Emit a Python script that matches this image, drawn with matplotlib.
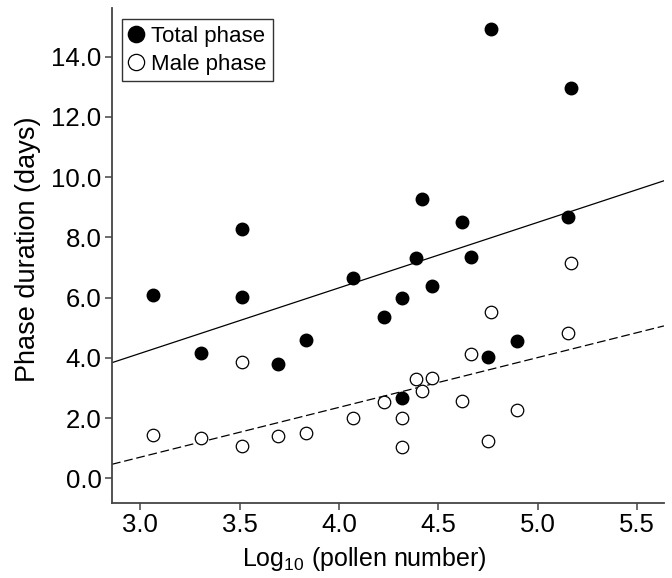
import numpy as np
import matplotlib.pyplot as plt

plt.rcParams['font.family'] = ['Liberation Sans', 'DejaVu Sans']
plt.rcParams['mathtext.default'] = 'regular'

# total phase (filled)
x_total = [3.065, 3.307, 3.511, 3.511, 3.695, 3.834, 4.072, 4.228, 4.317, 4.318,
           4.387, 4.420, 4.466, 4.618, 4.663, 4.747, 4.765, 4.896, 5.154, 5.166]
y_total = [6.09, 4.17, 8.27, 6.01, 3.80, 4.59, 6.66, 5.37, 5.98, 2.66,
           7.30, 9.27, 6.37, 8.51, 7.34, 4.04, 14.92, 4.55, 8.68, 12.96]

# male phase (open)
x_male = [3.067, 3.307, 3.511, 3.511, 3.695, 3.834, 4.072, 4.228, 4.318, 4.318,
          4.387, 4.420, 4.466, 4.618, 4.663, 4.747, 4.765, 4.896, 5.154, 5.166]
y_male = [1.44, 1.33, 3.87, 1.08, 1.39, 1.49, 2.01, 2.55, 2.01, 1.03,
          3.29, 2.90, 3.34, 2.58, 4.12, 1.25, 5.52, 2.27, 4.84, 7.14]

# fit lines (slope, intercept)
fit_total = (2.177, -2.384)
fit_male = (1.656, -4.269)

xticks = [3.0, 3.5, 4.0, 4.5, 5.0, 5.5]
yticks = [0, 2, 4, 6, 8, 10, 12, 14]

xlim = (2.859, 5.634)
ylim = (-0.82, 15.62)

fig = plt.figure(figsize=(6.72, 5.78), dpi=100)
ax = fig.add_axes([0.1667, 0.1298, 0.8213, 0.8564])

xx = np.array(xlim)
ax.plot(xx, fit_total[0]*xx + fit_total[1], color='black', lw=0.9, zorder=1)
ax.plot(xx, fit_male[0]*xx + fit_male[1], color='black', lw=0.9,
        linestyle=(0, (7, 3)), zorder=1)

ax.plot(x_total, y_total, 'o', ms=9, mfc='black', mec='black', ls='none',
        label='Total phase', zorder=3)
ax.plot(x_male, y_male, 'o', ms=9, mfc='white', mec='black', mew=0.9, ls='none',
        label='Male phase', zorder=3)

ax.set_xlim(*xlim)
ax.set_ylim(*ylim)
ax.set_xticks(xticks)
ax.set_xticklabels(['%.1f' % v for v in xticks])
ax.set_yticks(yticks)
ax.set_yticklabels(['%.1f' % v for v in yticks])

for s in ['top', 'right']:
    ax.spines[s].set_visible(False)
for s in ['left', 'bottom']:
    ax.spines[s].set_color('#444444')
    ax.spines[s].set_linewidth(1.3)
ax.tick_params(direction='out', length=5, width=1.1, color='#444444',
               labelsize=18.5, pad=2.5)

ax.set_xlabel('Log$_{10}$ (pollen number)', fontsize=18)
ax.set_ylabel('Phase duration (days)', fontsize=19.5)
ax.xaxis.set_label_coords(0.4565, -0.085)
ax.yaxis.set_label_coords(-0.128, 0.513)

leg = ax.legend(loc='upper left', bbox_to_anchor=(0.018, 0.978), fontsize=16,
                frameon=True, fancybox=False, handletextpad=0.35,
                handlelength=0.65, borderpad=0.3, labelspacing=0.32,
                borderaxespad=0.0, markerscale=1.3)
leg.get_frame().set_edgecolor('black')
leg.get_frame().set_linewidth(1.0)

fig.savefig('out.png', dpi=100)
